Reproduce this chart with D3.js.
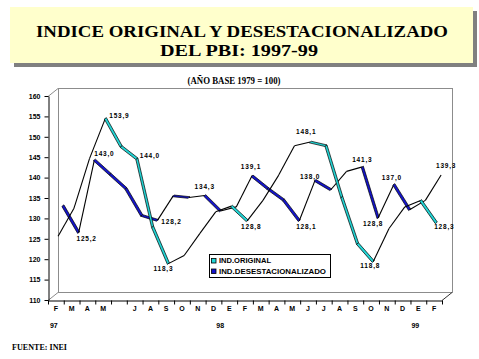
<!DOCTYPE html>
<html><head><meta charset="utf-8">
<script src="https://cdn.jsdelivr.net/npm/d3@7/dist/d3.min.js"></script>
<style>body{margin:0;background:#fff}svg{display:block}</style>
</head><body>
<svg id="c" width="479" height="359"></svg>
<script>
// ---- data ----
const months = ["F","M","A","M","","J","A","S","O","N","D","E","F","M","A","M","J","J","A","S","O","N","D","E","F"];
const yearLabels = ["97","98","99"];
const yearIndex = [0, 11, 23];
const original = [125.0,131.8,144.1,153.9,147.0,144.0,127.3,118.3,120.3,125.7,131.0,132.4,128.8,133.8,140.0,147.2,148.1,147.2,134.6,123.2,118.8,126.9,132.2,133.8,128.3];
const desest   = [131.8,125.2,143.0,139.5,136.0,129.4,128.2,134.2,133.8,134.3,130.5,131.5,139.1,136.0,133.2,128.1,138.0,135.7,140.2,141.3,128.8,137.0,130.8,133.1,139.3];
const yTicks = [110,115,120,125,130,135,140,145,150,155,160];
const seriesNames = ["IND.ORIGINAL","IND.DESESTACIONALIZADO"];
const origLabeled = [3,5,7,12,16,20,24];
const desLabeled  = [1,2,6,9,12,15,16,19,20,21,24];

// ---- styling / placement ----
const origLabelOff = {3:[14,-3],5:[13,-3],7:[-5,5],12:[4,6],16:[-4,-10],20:[-3,4],24:[8,4]};
const desLabelOff  = {1:[8,6],2:[10,-6],6:[14,1],9:[0,-9],12:[-1,-9],15:[7,6],16:[-5,-4],19:[0,-7],20:[-5,6],21:[-2,-7],24:[5,-9]};
const yearNudge = [-2,-9,-3];
const COL_O = "#22d6d6", COL_D = "#1414cc";

const svg = d3.select("#c");

// Title box
svg.append("rect").attr("x",14).attr("y",11).attr("width",463).attr("height",56).attr("fill","#808080");
svg.append("rect").attr("x",10).attr("y",7).attr("width",463).attr("height",56).attr("fill","#ffffcc");
svg.append("text").attr("x",242).attr("y",36.5).attr("text-anchor","middle")
  .attr("font-family","'Liberation Serif','Times New Roman',serif").attr("font-weight","bold").attr("font-size",16.5)
  .attr("textLength",412).attr("lengthAdjust","spacingAndGlyphs")
  .text("INDICE ORIGINAL Y DESESTACIONALIZADO");
svg.append("text").attr("x",239).attr("y",55.5).attr("text-anchor","middle")
  .attr("font-family","'Liberation Serif','Times New Roman',serif").attr("font-weight","bold").attr("font-size",16.5)
  .attr("textLength",158).attr("lengthAdjust","spacingAndGlyphs")
  .text("DEL PBI: 1997-99");
svg.append("text").attr("x",234).attr("y",84).attr("text-anchor","middle")
  .attr("font-family","'Liberation Serif','Times New Roman',serif").attr("font-weight","bold").attr("font-size",9.5)
  .attr("textLength",93).attr("lengthAdjust","spacingAndGlyphs")
  .text("(AÑO BASE 1979 = 100)");
svg.append("text").attr("x",12).attr("y",350)
  .attr("font-family","'Liberation Serif','Times New Roman',serif").attr("font-weight","bold").attr("font-size",9)
  .attr("textLength",55).attr("lengthAdjust","spacingAndGlyphs")
  .text("FUENTE: INEI");

// scales
const L = 48, R = 442, B = 300, T = 96, DX = 10, DY = -8;
const y = d3.scaleLinear().domain([110,160]).range([B,T]);
const xb = d3.scaleBand().domain(d3.range(months.length)).range([L,R]);
const xl = d3.scaleLinear().domain([0,months.length]).range([L,R]);
const xc = i => xb(i) + xb.bandwidth()/2;

// back wall frame
const g3 = svg.append("g").attr("fill","none").attr("stroke","#8c8c8c").attr("stroke-width",1);
g3.append("rect").attr("x",L+DX+0.5).attr("y",T+DY+0.5).attr("width",R-L).attr("height",B-T);
g3.append("line").attr("x1",L).attr("y1",T+0.5).attr("x2",L+DX).attr("y2",T+DY+0.5);
g3.append("line").attr("x1",L).attr("y1",B+0.5).attr("x2",L+DX).attr("y2",B+DY+0.5);
g3.append("line").attr("x1",R).attr("y1",B+0.5).attr("x2",R+DX).attr("y2",B+DY+0.5).attr("stroke","#333");

// y axis
const ya = svg.append("g").attr("transform",`translate(${L+0.5},0)`)
  .call(d3.axisLeft(y).tickValues(yTicks).tickSize(4).tickSizeOuter(0).tickPadding(4).tickFormat(d3.format("d")));
ya.selectAll("text").attr("font-family","'Liberation Sans',Arial,sans-serif").attr("font-weight","bold").attr("font-size",7).attr("fill","#000");
ya.selectAll("line,path").attr("stroke","#000");

// x axis ticks
const xa = svg.append("g").attr("transform",`translate(0,${B+0.5})`)
  .call(d3.axisBottom(xl).tickValues(d3.range(months.length+1)).tickSize(4).tickSizeOuter(0).tickFormat(""));
xa.selectAll("line,path").attr("stroke","#000");
const xa2 = svg.append("g").attr("transform",`translate(0,${B})`)
  .call(d3.axisBottom(xb).tickSize(0).tickPadding(6.5).tickFormat(i => months[i]));
xa2.select(".domain").remove();
xa2.selectAll("text").attr("font-family","'Liberation Sans',Arial,sans-serif").attr("font-weight","bold").attr("font-size",7).attr("fill","#000");

svg.append("g").selectAll("text").data(yearIndex).join("text")
  .attr("x",(d,k)=>xc(d)+yearNudge[k]).attr("y",328).attr("text-anchor","middle")
  .attr("font-family","'Liberation Sans',Arial,sans-serif").attr("font-weight","bold").attr("font-size",7)
  .text((d,k)=>yearLabels[k]);

// ribbons
const rib = [2,-1.6];
function drawSeries(vals, dx, dy, color){
  const pts = vals.map((v,i)=>[xc(i)+dx, y(v)+dy]);
  const g = svg.append("g");
  for(let i=0;i<pts.length-1;i++){
    const p1 = pts[i], p2 = pts[i+1];
    if(p2[1] < p1[1]){
      g.append("line").attr("x1",p1[0]).attr("y1",p1[1]).attr("x2",p2[0]).attr("y2",p2[1])
        .attr("stroke","#000").attr("stroke-width",1.1);
    } else {
      const a=[p1[0]-rib[0]/2,p1[1]-rib[1]/2], b=[p2[0]-rib[0]/2,p2[1]-rib[1]/2];
      const c=[b[0]+rib[0],b[1]+rib[1]], d=[a[0]+rib[0],a[1]+rib[1]];
      g.append("path").attr("d",d3.line()([a,b,c,d])+"Z").attr("fill",color).attr("stroke","#000").attr("stroke-width",0.7);
    }
  }
  return pts;
}
const pD = drawSeries(desest, 7, -5.4, COL_D);
const pO = drawSeries(original, 2.2, -2.5, COL_O);

const fmt = v => d3.format(".1f")(v).replace(".",",");
function labels(pts, vals, idx, off){
  svg.append("g").selectAll("text").data(idx).join("text")
    .attr("x",i=>pts[i][0]+off[i][0]).attr("y",i=>pts[i][1]+off[i][1]).attr("dy","0.35em")
    .attr("text-anchor","middle")
    .attr("font-family","'Liberation Sans',Arial,sans-serif").attr("font-weight","bold").attr("font-size",6.5)
    .attr("letter-spacing",0.8)
    .text(i=>fmt(vals[i]));
}
labels(pO, original, origLabeled, origLabelOff);
labels(pD, desest, desLabeled, desLabelOff);

// legend
const lg = svg.append("g");
lg.append("rect").attr("x",209.5).attr("y",254.5).attr("width",121).attr("height",23).attr("fill","#fff").attr("stroke","#000");
[COL_O, COL_D].forEach((c,k)=>{
  lg.append("rect").attr("x",211.5).attr("y",258.5+k*10.5).attr("width",4.5).attr("height",4.5).attr("fill",c).attr("stroke","#000").attr("stroke-width",0.8);
  lg.append("text").attr("x",219).attr("y",261+k*10.5).attr("dy","0.35em")
    .attr("font-family","'Liberation Sans',Arial,sans-serif").attr("font-weight","bold").attr("font-size",7)
    .attr("textLength",k?107:52).attr("lengthAdjust","spacingAndGlyphs")
    .text(seriesNames[k]);
});
</script>
</body></html>
